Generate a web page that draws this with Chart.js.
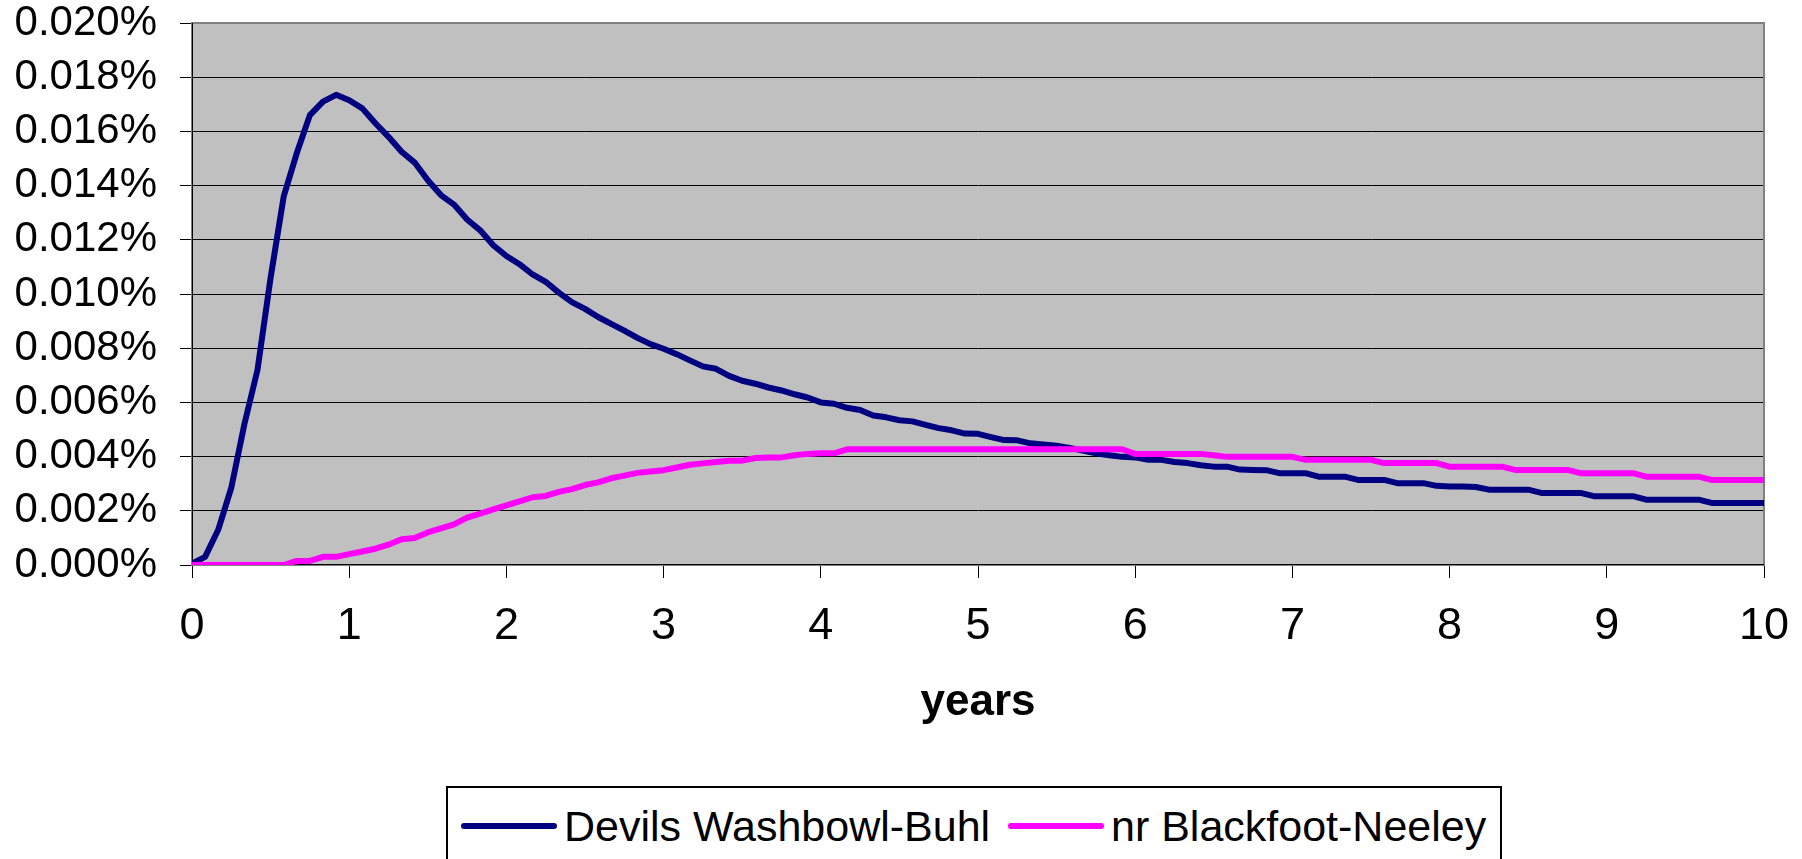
<!DOCTYPE html>
<html>
<head>
<meta charset="utf-8">
<script src="https://cdn.jsdelivr.net/npm/chart.js@4.4.1/dist/chart.umd.min.js"></script>
<style>
  html, body { margin: 0; padding: 0; background: #fff; }
  #wrap { position: relative; width: 1802px; height: 859px; overflow: hidden; }
  #chartBox { position: absolute; left: 0; top: 0; width: 1802px; height: 859px; }
  #legend { position: absolute; left: 446px; top: 786px; width: 1056px; height: 120px;
            border: 2px solid #000; box-sizing: border-box; background: #fff;
            font-family: 'Liberation Sans', Arial, sans-serif; color: #000; }
  .item { position: absolute; top: 0; height: 76px; display: flex; align-items: center; }
  .sw { display: inline-block; width: 96px; height: 6px; border-radius: 3px; margin-right: 7px; }
  .txt { font-size: 43px; white-space: nowrap; line-height: 1; }
</style>
</head>
<body>
<div id="wrap">
  <div id="chartBox"><canvas id="c"></canvas></div>
  <div id="legend"></div>
</div>
<script>
// ---- data (values in percent) ----
const seriesNames = ['Devils Washbowl-Buhl', 'nr Blackfoot-Neeley'];
const seriesColors = ['#000080', '#FF00FF'];

// time axis: monthly samples over 10 years
const years = Array.from({length: 121}, (_, i) => i / 12);

const devilsWashbowl = [
  0.00005, 0.00030, 0.00130, 0.00285, 0.00520, 0.00720, 0.01060, 0.01360, 0.01520, 0.01660,
  0.01710, 0.01735, 0.01715, 0.01685, 0.01630, 0.01580, 0.01525, 0.01485, 0.01420, 0.01365,
  0.01330, 0.01275, 0.01235, 0.01180, 0.01140, 0.01110, 0.01072, 0.01045, 0.01005, 0.00970,
  0.00945, 0.00915, 0.00890, 0.00865, 0.00838, 0.00815, 0.00798, 0.00778, 0.00755, 0.00733,
  0.00724, 0.00698, 0.00680, 0.00669, 0.00655, 0.00644, 0.00630, 0.00618, 0.00600, 0.00595,
  0.00580, 0.00572, 0.00552, 0.00545, 0.00534, 0.00530, 0.00517, 0.00505, 0.00497, 0.00485,
  0.00484, 0.00472, 0.00461, 0.00460, 0.00449, 0.00445, 0.00440, 0.00432, 0.00422, 0.00412,
  0.00405, 0.00399, 0.00397, 0.00388, 0.00388, 0.00380, 0.00376, 0.00368, 0.00363, 0.00363,
  0.00352, 0.00351, 0.00350, 0.00339, 0.00339, 0.00339, 0.00326, 0.00326, 0.00326, 0.00314,
  0.00314, 0.00314, 0.00302, 0.00302, 0.00302, 0.00292, 0.00290, 0.00290, 0.00288, 0.00278,
  0.00278, 0.00278, 0.00278, 0.00266, 0.00266, 0.00266, 0.00266, 0.00254, 0.00254, 0.00254,
  0.00254, 0.00241, 0.00241, 0.00241, 0.00241, 0.00241, 0.00229, 0.00229, 0.00229, 0.00229,
  0.00229
];

const blackfootNeeley = [
  0.00000, 0.00000, 0.00000, 0.00000, 0.00000, 0.00000, 0.00000, 0.00000, 0.00015, 0.00015,
  0.00030, 0.00030, 0.00040, 0.00050, 0.00060, 0.00075, 0.00095, 0.00100, 0.00120, 0.00135,
  0.00150, 0.00175, 0.00190, 0.00205, 0.00220, 0.00235, 0.00250, 0.00255, 0.00270, 0.00280,
  0.00295, 0.00305, 0.00320, 0.00330, 0.00340, 0.00345, 0.00350, 0.00360, 0.00370, 0.00375,
  0.00380, 0.00385, 0.00385, 0.00395, 0.00397, 0.00397, 0.00405, 0.00410, 0.00412, 0.00412,
  0.00427, 0.00427, 0.00427, 0.00427, 0.00427, 0.00427, 0.00427, 0.00427, 0.00427, 0.00427,
  0.00427, 0.00427, 0.00427, 0.00427, 0.00427, 0.00427, 0.00427, 0.00427, 0.00427, 0.00427,
  0.00427, 0.00427, 0.00410, 0.00410, 0.00410, 0.00410, 0.00410, 0.00410, 0.00405, 0.00399,
  0.00399, 0.00399, 0.00399, 0.00399, 0.00399, 0.00388, 0.00388, 0.00388, 0.00388, 0.00388,
  0.00388, 0.00376, 0.00376, 0.00376, 0.00376, 0.00376, 0.00363, 0.00363, 0.00363, 0.00363,
  0.00363, 0.00351, 0.00351, 0.00351, 0.00351, 0.00351, 0.00339, 0.00339, 0.00339, 0.00339,
  0.00339, 0.00326, 0.00326, 0.00326, 0.00326, 0.00326, 0.00314, 0.00314, 0.00314, 0.00314,
  0.00314
];

const yTickValues = [0, 0.002, 0.004, 0.006, 0.008, 0.010, 0.012, 0.014, 0.016, 0.018, 0.020];
const xTickValues = [0, 1, 2, 3, 4, 5, 6, 7, 8, 9, 10];
const xTitle = 'years';

// ---- chart ----
const FONT = "'Liberation Sans', Arial, Helvetica, sans-serif";
Chart.defaults.font.family = FONT;
Chart.defaults.color = '#000';

const toPoints = (vals) => vals.map((v, i) => ({x: years[i], y: v}));

const plotBackground = {
  id: 'plotBackground',
  beforeDraw(chart) {
    const {ctx, chartArea: a} = chart;
    ctx.save();
    ctx.fillStyle = '#C0C0C0';
    ctx.fillRect(a.left, a.top, a.right - a.left, a.bottom - a.top);
    ctx.restore();
  },
  beforeDatasetsDraw(chart) {
    const {ctx, chartArea: a} = chart;
    ctx.save();
    ctx.strokeStyle = '#808080';
    ctx.lineWidth = 2;
    ctx.strokeRect(a.left, a.top, a.right - a.left, a.bottom - a.top);
    ctx.strokeStyle = '#000';
    ctx.lineWidth = 1;
    ctx.beginPath();
    ctx.moveTo(Math.round(a.left) + 0.5, a.top);
    ctx.lineTo(Math.round(a.left) + 0.5, a.bottom);
    ctx.moveTo(a.left, Math.round(a.bottom) - 0.5);
    ctx.lineTo(a.right, Math.round(a.bottom) - 0.5);
    ctx.stroke();
    ctx.restore();
  }
};

const chart = new Chart(document.getElementById('c'), {
  type: 'line',
  data: {
    datasets: [
      {
        label: seriesNames[0],
        data: toPoints(devilsWashbowl),
        borderColor: seriesColors[0],
        backgroundColor: seriesColors[0],
        borderWidth: 6,
        pointRadius: 0,
        tension: 0,
        borderJoinStyle: 'round',
        borderCapStyle: 'round',
        order: 1
      },
      {
        label: seriesNames[1],
        data: toPoints(blackfootNeeley),
        borderColor: seriesColors[1],
        backgroundColor: seriesColors[1],
        borderWidth: 6,
        pointRadius: 0,
        tension: 0,
        borderJoinStyle: 'round',
        borderCapStyle: 'round',
        order: 0
      }
    ]
  },
  options: {
    responsive: true,
    maintainAspectRatio: false,
    devicePixelRatio: 1,
    animation: false,
    layout: { padding: 0 },
    plugins: {
      legend: { display: false },
      tooltip: { enabled: false }
    },
    scales: {
      x: {
        type: 'linear',
        min: 0,
        max: 10,
        afterBuildTicks(s) { s.ticks = xTickValues.map(v => ({value: v})); },
        afterFit(s) { s.height = 859 - 565; s.paddingLeft = 0; s.paddingRight = 38; },
        ticks: {
          font: { size: 45 },
          color: '#000',
          padding: 22,
          maxRotation: 0,
          callback: v => String(v)
        },
        grid: { drawOnChartArea: false, drawTicks: true, tickLength: 13, color: '#000', lineWidth: 1 },
        border: { display: true, color: '#000', width: 1 },
        title: {
          display: true,
          text: xTitle,
          font: { size: 44, weight: 'bold' },
          color: '#000',
          padding: { top: 0, bottom: 130 }
        }
      },
      y: {
        type: 'linear',
        min: 0,
        max: 0.02,
        afterBuildTicks(s) { s.ticks = yTickValues.map(v => ({value: v})); },
        afterFit(s) { s.width = 192; s.paddingTop = 23; s.paddingBottom = 0; },
        ticks: {
          font: { size: 42 },
          color: '#000',
          padding: 23,
          callback: v => v.toFixed(3) + '%'
        },
        grid: { drawOnChartArea: true, drawTicks: true, tickLength: 12, color: '#000', tickColor: '#000', lineWidth: 1 },
        border: { display: true, color: '#000', width: 1 }
      }
    }
  },
  plugins: [plotBackground]
});

// ---- legend (built from the chart's datasets) ----
const legendEl = document.getElementById('legend');
const itemLefts = [13, 560];
chart.data.datasets.forEach((ds, i) => {
  const item = document.createElement('div');
  item.className = 'item';
  item.style.left = itemLefts[i] + 'px';
  const sw = document.createElement('span');
  sw.className = 'sw';
  sw.style.background = ds.borderColor;
  const t = document.createElement('span');
  t.className = 'txt';
  t.textContent = ds.label;
  item.appendChild(sw);
  item.appendChild(t);
  legendEl.appendChild(item);
});
</script>
</body>
</html>
